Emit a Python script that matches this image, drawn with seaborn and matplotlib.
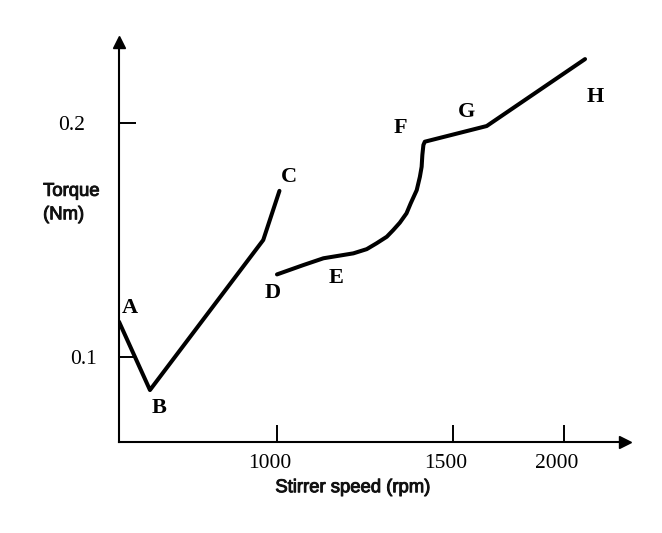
#!/usr/bin/env python3

import numpy as np
import pandas as pd
import seaborn as sns
import matplotlib as mpl
import matplotlib.pyplot as plt
import matplotlib.patheffects as pe
from matplotlib.transforms import ScaledTranslation

sns.set_theme(style="white")
mpl.rcParams["font.family"] = ["Liberation Sans", "DejaVu Sans"]

# curve A-B-C (stirrer speed rpm, torque Nm)
abc_speed = [0, 196, 913, 1007]
abc_torque = [0.1150, 0.0858, 0.1499, 0.1709]

# curve D-E-F-G-H
dh_speed = [1000, 1075, 1132, 1217, 1255, 1283, 1312, 1330, 1349, 1368, 1380,
            1397, 1406, 1411, 1413, 1416, 1420, 1652, 2095]
dh_torque = [0.1352, 0.1392, 0.1421, 0.1442, 0.1460, 0.1485, 0.1513, 0.1541,
             0.1573, 0.1613, 0.1656, 0.1712, 0.1769, 0.1812, 0.1862, 0.1905,
             0.1919, 0.1986, 0.2272]

# point labels
point_names = ["A", "B", "C", "D", "E", "F", "G", "H"]
point_speed = [70, 253, 1035, 973, 1168, 1352, 1559, 2140]
point_torque = [0.1208, 0.0781, 0.1769, 0.1274, 0.1335, 0.1979, 0.2047, 0.2110]

x_ticks = [1000, 1500, 2000]
y_ticks = [0.1, 0.2]

# the speed axis of the sketch is not evenly spaced
rpm_knots = np.array([0, 1000, 1500, 2000])
pos_knots = np.array([0, 158, 334, 445])


def _pw(v, a, b):
    v = np.asarray(v, dtype=float)
    out = np.interp(v, a, b)
    lo = (b[1] - b[0]) / (a[1] - a[0])
    hi = (b[-1] - b[-2]) / (a[-1] - a[-2])
    out = np.where(v < a[0], b[0] + (v - a[0]) * lo, out)
    out = np.where(v > a[-1], b[-1] + (v - a[-1]) * hi, out)
    return out


def fwd(v):
    return _pw(v, rpm_knots, pos_knots)


def inv(p):
    return _pw(p, pos_knots, rpm_knots)


df = pd.concat([
    pd.DataFrame({"speed": abc_speed, "torque": abc_torque, "branch": "ABC"}),
    pd.DataFrame({"speed": dh_speed, "torque": dh_torque, "branch": "DH"}),
])

fig = plt.figure(figsize=(6.62, 5.33), dpi=100)
ax = fig.add_axes([119 / 662, 1 - 442 / 533, 506 / 662, 400 / 533])
ax.set_xscale("function", functions=(fwd, inv))

sns.lineplot(data=df, x="speed", y="torque", units="branch", estimator=None,
             sort=False, color="black", linewidth=2.9, ax=ax)

ax.set_xlim(0, 2275)
ax.set_ylim(0.0636, 0.2345)

for s in ["top", "right"]:
    ax.spines[s].set_visible(False)
for s in ["left", "bottom"]:
    ax.spines[s].set_color("black")
    ax.spines[s].set_linewidth(1.5)

ax.plot(1, 0, ">", color="black", markersize=9, transform=ax.transAxes, clip_on=False)
ax.plot(0, 1, "^", color="black", markersize=9, transform=ax.transAxes, clip_on=False)

ax.set_xticks(x_ticks)
ax.set_xticklabels([str(t) for t in x_ticks])
ax.set_yticks(y_ticks)
ax.set_yticklabels([str(t) for t in y_ticks])
ax.minorticks_off()
ax.tick_params(axis="both", which="major", direction="in", length=12, width=1.4,
               color="black", labelsize=15.5, labelcolor="black",
               bottom=True, left=True)
ax.tick_params(axis="x", pad=9)
ax.tick_params(axis="y", pad=16)

for lab in ax.get_xticklabels():
    lab.set_fontfamily("Liberation Serif")
    lab.set_transform(lab.get_transform() + ScaledTranslation(-0.07, 0, fig.dpi_scale_trans))
for lab, dx in zip(ax.get_yticklabels(), [0.0, -0.12]):
    lab.set_fontfamily("Liberation Serif")
    lab.set_transform(lab.get_transform() + ScaledTranslation(dx, 0, fig.dpi_scale_trans))

heavy = [pe.withStroke(linewidth=0.7, foreground="#111111")]
ax.set_xlabel("Stirrer speed (rpm)", fontsize=13.3, color="#111111",
              path_effects=heavy)
ax.xaxis.set_label_coords(0.462, -0.093)
ax.set_ylabel("Torque\n(Nm)", rotation=0, ha="left", va="top", fontsize=13.3,
              color="#111111", linespacing=1.5, path_effects=heavy)
ax.yaxis.set_label_coords(-0.15, 0.648)

for name, x, y in zip(point_names, point_speed, point_torque):
    ax.text(x, y, name, ha="center", va="center", fontsize=16, fontweight="bold",
            family="Liberation Serif", color="black")

plt.savefig("out.png", dpi=100)
